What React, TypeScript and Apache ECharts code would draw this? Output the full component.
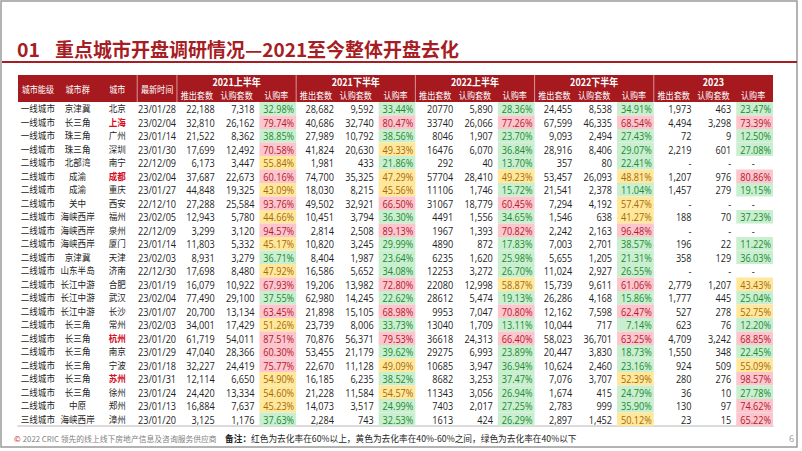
import React, { useEffect, useRef } from 'react';
import * as echarts from 'echarts';

// ---------- data ----------
const fixedHeaders = ['城市能级', '城市群', '城市', '最新时间'];
const periods = ['2021上半年', '2021下半年', '2022上半年', '2022下半年', '2023'];
const subHeaders = ['推出套数', '认购套数', '认购率'];

const tiers = ['一线城市', '一线城市', '一线城市', '一线城市', '二线城市', '二线城市', '二线城市', '二线城市', '二线城市', '二线城市', '二线城市', '二线城市', '二线城市', '二线城市', '二线城市', '二线城市', '二线城市', '二线城市', '二线城市', '二线城市', '二线城市', '二线城市', '二线城市', '三线城市'];
const clusters = ['京津冀', '长三角', '珠三角', '珠三角', '北部湾', '成渝', '成渝', '关中', '海峡西岸', '海峡西岸', '海峡西岸', '京津冀', '山东半岛', '长江中游', '长江中游', '长江中游', '长三角', '长三角', '长三角', '长三角', '长三角', '长三角', '中原', '海峡西岸'];
const cities = ['北京', '上海', '广州', '深圳', '南宁', '成都', '重庆', '西安', '福州', '泉州', '厦门', '天津', '济南', '合肥', '武汉', '长沙', '常州', '杭州', '南京', '宁波', '苏州', '徐州', '郑州', '漳州'];
const highlightedCities = ['上海', '成都', '杭州', '苏州'];
const updateDates = ['23/01/28', '23/02/04', '23/01/14', '23/01/30', '22/12/09', '23/02/04', '23/01/27', '22/12/10', '23/02/05', '22/12/09', '23/01/14', '23/02/03', '22/12/30', '23/01/19', '23/02/04', '23/01/07', '23/02/03', '23/01/20', '23/01/29', '23/01/18', '23/01/31', '23/01/24', '23/01/13', '23/01/20'];

const launched21H1 = [22188, 32810, 21522, 17699, 6173, 37687, 44848, 27288, 12943, 3299, 11803, 8931, 17698, 16079, 77490, 20700, 34001, 61719, 47040, 32227, 12114, 24420, 16884, 3125];
const subscribed21H1 = [7318, 26162, 8362, 12492, 3447, 22673, 19325, 25584, 5780, 3120, 5332, 3279, 8480, 10922, 29100, 13134, 17429, 54011, 28366, 24419, 6650, 13334, 7637, 1176];
const rate21H1 = [32.98, 79.74, 38.85, 70.58, 55.84, 60.16, 43.09, 93.76, 44.66, 94.57, 45.17, 36.71, 47.92, 67.93, 37.55, 63.45, 51.26, 87.51, 60.30, 75.77, 54.90, 54.60, 45.23, 37.63];

const launched21H2 = [28682, 40686, 27989, 41824, 1981, 74700, 18030, 49502, 10451, 2814, 10820, 8404, 16586, 19206, 62980, 21898, 23739, 70876, 53455, 22670, 16185, 21228, 14073, 2284];
const subscribed21H2 = [9592, 32740, 10792, 20630, 433, 35325, 8215, 32921, 3794, 2508, 3245, 1987, 5652, 13982, 14245, 15105, 8006, 56371, 21179, 11128, 6235, 11584, 3517, 743];
const rate21H2 = [33.44, 80.47, 38.56, 49.33, 21.86, 47.29, 45.56, 66.50, 36.30, 89.13, 29.99, 23.64, 34.08, 72.80, 22.62, 68.98, 33.73, 79.53, 39.62, 49.09, 38.52, 54.57, 24.99, 32.53];

const launched22H1 = [20770, 33740, 8046, 16476, 292, 57704, 11106, 31067, 4491, 1967, 4890, 6235, 12253, 22080, 28612, 9953, 13040, 36618, 29275, 10685, 8682, 11343, 7403, 1613];
const subscribed22H1 = [5890, 26066, 1907, 6070, 40, 28410, 1746, 18779, 1556, 1393, 872, 1620, 3272, 12998, 5474, 7047, 1709, 24313, 6993, 3947, 3253, 3056, 2017, 424];
const rate22H1 = [28.36, 77.26, 23.70, 36.84, 13.70, 49.23, 15.72, 60.45, 34.65, 70.82, 17.83, 25.98, 26.70, 58.87, 19.13, 70.80, 13.11, 66.40, 23.89, 36.94, 37.47, 26.94, 27.25, 26.29];

const launched22H2 = [24455, 67599, 9093, 28916, 357, 53457, 21541, 7294, 1546, 2242, 7003, 5655, 11024, 15739, 26286, 12162, 10044, 58023, 20447, 10624, 7076, 1674, 2783, 2897];
const subscribed22H2 = [8538, 46335, 2494, 8406, 80, 26093, 2378, 4192, 638, 2163, 2701, 1205, 2927, 9611, 4168, 7598, 717, 36701, 3830, 2460, 3707, 415, 999, 1452];
const rate22H2 = [34.91, 68.54, 27.43, 29.07, 22.41, 48.81, 11.04, 57.47, 41.27, 96.48, 38.57, 21.31, 26.55, 61.06, 15.86, 62.47, 7.14, 63.25, 18.73, 23.16, 52.39, 24.79, 35.90, 50.12];

const launched23 = [1973, 4494, 72, 2219, null, 1207, 1457, null, 188, null, 196, 358, null, 2779, 1777, 527, 623, 4709, 1550, 924, 280, 36, 130, 23];
const subscribed23 = [463, 3298, 9, 601, null, 976, 279, null, 70, null, 22, 129, null, 1207, 445, 278, 76, 3242, 348, 509, 276, 10, 97, 15];
const rate23 = [23.47, 73.39, 12.50, 27.08, null, 80.86, 19.15, null, 37.23, null, 11.22, 36.03, null, 43.43, 25.04, 52.75, 12.20, 68.85, 22.45, 55.09, 98.57, 27.78, 74.62, 65.22];

const periodLaunched = [launched21H1, launched21H2, launched22H1, launched22H2, launched23];
const periodSubscribed = [subscribed21H1, subscribed21H2, subscribed22H1, subscribed22H2, subscribed23];
const periodRates = [rate21H1, rate21H2, rate22H1, rate22H2, rate23];
// the source shows 2022上半年 推出套数 without thousands separators
const launchedUsesSeparator = [true, true, false, true, true];

const titleNo = '01';
const titleText = '重点城市开盘调研情况—2021至今整体开盘去化';
const copyrightText = ' 2022 CRIC 领先的线上线下房地产信息及咨询服务供应商';
const noteLabel = '备注：';
const noteText = '红色为去化率在60%以上，黄色为去化率在40%-60%之间，绿色为去化率在40%以下';
const pageNo = '6';

// ---------- styling ----------
const RED = '#a5191f';
const CJK = "'Noto Sans CJK SC', sans-serif";
const NUM = "'Open Sans', 'Noto Sans CJK SC', sans-serif";

function rateStyle(v: number) {
  if (v >= 60) return { fill: '#fbc6cd', color: '#b5172b' };
  if (v >= 40) return { fill: '#ffe89c', color: '#a8680a' };
  return { fill: '#c9efd0', color: '#1c8a30' };
}

type Cell = {
  col: number; row: number; spanX: number; spanY: number;
  text: string; align: 'center' | 'right';
  font: string; size: number; bold: boolean; color: string; squeeze: number;
  fill?: string; inset?: number; sepRight?: boolean;
};

const columns: string[] = ['tier', 'cluster', 'city', 'date'];
periods.forEach((p) => subHeaders.forEach((s) => columns.push(p + '-' + s)));
const rowsCat: string[] = ['header1', 'header2', ...cities];

const cells: Cell[] = [];
fixedHeaders.forEach((h, i) => {
  cells.push({ col: i, row: 0, spanX: 1, spanY: 2, text: h, align: 'center', font: CJK, size: 9, bold: false, color: '#ffffff', squeeze: 0.9, sepRight: i >= 2 });
});
periods.forEach((p, g) => {
  cells.push({ col: 4 + 3 * g, row: 0, spanX: 3, spanY: 1, text: p, align: 'center', font: CJK, size: 10, bold: true, color: '#ffffff', squeeze: 0.9, sepRight: g < periods.length - 1 });
  subHeaders.forEach((s, k) => {
    cells.push({ col: 4 + 3 * g + k, row: 1, spanX: 1, spanY: 1, text: s, align: 'center', font: CJK, size: 9, bold: false, color: '#ffffff', squeeze: 0.9, sepRight: k === 2 && g < periods.length - 1 });
  });
});

const fmt = (v: number | null, sep: boolean) => (v == null ? '-' : sep ? v.toLocaleString('en-US') : String(v));

cities.forEach((city, r) => {
  const row = r + 2;
  const cjk = { spanX: 1, spanY: 1, bold: false, color: '#1f1f1f', font: CJK, size: 9.5, squeeze: 0.9 };
  const num = { spanX: 1, spanY: 1, bold: false, color: '#1f1f1f', font: NUM, size: 10.5, squeeze: 0.87 };
  cells.push({ ...cjk, col: 0, row, text: tiers[r], align: 'center' });
  cells.push({ ...cjk, col: 1, row, text: clusters[r], align: 'center' });
  const hi = highlightedCities.includes(city);
  cells.push({ ...cjk, col: 2, row, text: city, align: 'center', bold: hi, color: hi ? '#d40f1f' : '#1f1f1f' });
  cells.push({ ...num, col: 3, row, text: updateDates[r], align: 'center' });
  periods.forEach((_, g) => {
    const c0 = 4 + 3 * g;
    cells.push({ ...num, col: c0, row, text: fmt(periodLaunched[g][r], launchedUsesSeparator[g]), align: 'right' });
    cells.push({ ...num, col: c0 + 1, row, text: fmt(periodSubscribed[g][r], true), align: 'right' });
    const rv = periodRates[g][r];
    if (rv == null) {
      cells.push({ ...num, col: c0 + 2, row, text: '-', align: 'center' });
    } else {
      const st = rateStyle(rv);
      cells.push({ ...num, col: c0 + 2, row, text: rv.toFixed(2) + '%', align: 'right', color: st.color, fill: st.fill, inset: 3 });
    }
  });
});

function cellRender(list: Cell[]) {
  return (params: any, api: any) => {
    const c = list[api.value(2) as number];
    const p = api.coord([api.value(0), api.value(1)]);
    const s = api.size([1, 1]) as number[];
    const w = s[0];
    const h = s[1];
    const x0 = p[0] - w / 2;
    const y0 = p[1] - h / 2;
    const W = w * c.spanX;
    const H = h * c.spanY;
    const children: any[] = [];
    if (c.fill) {
      const ins = c.inset || 0;
      children.push({ type: 'rect', shape: { x: x0 + ins, y: y0, width: W - ins, height: H }, style: { fill: c.fill } });
    }
    if (c.sepRight) {
      children.push({ type: 'line', shape: { x1: x0 + W, y1: y0, x2: x0 + W, y2: y0 + H }, style: { stroke: 'rgba(255,255,255,0.55)', lineWidth: 1 } });
    }
    if (c.text) {
      const tx = c.align === 'right' ? x0 + W - 2 : x0 + W / 2;
      const ty = y0 + H / 2;
      children.push({
        type: 'text', x: tx, y: ty, scaleX: c.squeeze,
        style: {
          text: c.text, x: 0, y: 0,
          align: c.align, verticalAlign: 'middle', textAlign: c.align, textVerticalAlign: 'middle',
          fill: c.color, fontSize: c.size, fontFamily: c.font, fontWeight: c.bold ? 'bold' : 'normal',
        },
      });
    }
    return { type: 'group', children };
  };
}

const headerBg: Cell[] = [{ col: 0, row: 0, spanX: columns.length, spanY: 2, text: '', align: 'center', font: CJK, size: 9, bold: false, color: '#fff', squeeze: 1, fill: RED }];

export default function App() {
  const ref = useRef<HTMLDivElement>(null);
  useEffect(() => {
    if (!ref.current) return;
    const chart = echarts.init(ref.current, undefined, { renderer: 'svg' });
    chart.setOption({
      animation: false,
      backgroundColor: '#ffffff',
      grid: { left: 18, right: 29, top: 75, bottom: 25, containLabel: false },
      xAxis: {
        type: 'category', data: columns, position: 'bottom',
        axisLine: { show: true, lineStyle: { color: '#cfcfcf', width: 1.5 } },
        axisTick: { show: false }, axisLabel: { show: false }, splitLine: { show: false },
      },
      yAxis: {
        type: 'category', data: rowsCat, inverse: true, show: false,
      },
      series: [
        {
          type: 'custom', z: 1, renderItem: cellRender(headerBg),
          data: headerBg.map((c, i) => [c.col, c.row, i]), encode: { x: 0, y: 1 }, silent: true,
        },
        {
          type: 'custom', z: 2, renderItem: cellRender(cells),
          data: cells.map((c, i) => [c.col, c.row, i]), encode: { x: 0, y: 1 }, silent: true,
        },
      ],
      graphic: [
        { type: 'rect', shape: { x: 1, y: 1, width: 796, height: 446 }, style: { fill: 'none', stroke: '#9a9a9a', lineWidth: 1.5 }, silent: true },
        { type: 'text', x: 17, y: 48, style: { text: titleNo, fill: '#a61d24', fontSize: 19.5, fontWeight: 'bold', fontFamily: CJK, verticalAlign: 'middle', textVerticalAlign: 'middle' } },
        { type: 'text', x: 55, y: 48, style: { text: titleText, fill: '#a61d24', fontSize: 19, fontWeight: 'bold', fontFamily: CJK, verticalAlign: 'middle', textVerticalAlign: 'middle' } },
        { type: 'line', shape: { x1: 2, y1: 62, x2: 797, y2: 62 }, style: { stroke: '#a61d24', lineWidth: 2 } },
        { type: 'text', x: 14, y: 438, style: { text: '©', fill: '#c0282d', fontSize: 8, fontFamily: CJK, verticalAlign: 'middle', textVerticalAlign: 'middle' } },
        { type: 'text', x: 21, y: 438, style: { text: copyrightText, fill: '#7f7f7f', fontSize: 7.8, fontFamily: CJK, verticalAlign: 'middle', textVerticalAlign: 'middle' } },
        { type: 'text', x: 225, y: 438, style: { text: noteLabel, fill: '#262626', fontSize: 8.7, fontWeight: 'bold', fontFamily: CJK, verticalAlign: 'middle', textVerticalAlign: 'middle' } },
        { type: 'text', x: 251, y: 438, style: { text: noteText, fill: '#262626', fontSize: 8.7, fontFamily: CJK, verticalAlign: 'middle', textVerticalAlign: 'middle' } },
        { type: 'text', x: 789, y: 438, style: { text: pageNo, fill: '#9a9a9a', fontSize: 9, fontFamily: NUM, verticalAlign: 'middle', textVerticalAlign: 'middle' } },
      ],
    });
    return () => chart.dispose();
  }, []);
  return <div ref={ref} style={{ position: 'absolute', left: 0, top: 0, width: 802, height: 451 }} />;
}
